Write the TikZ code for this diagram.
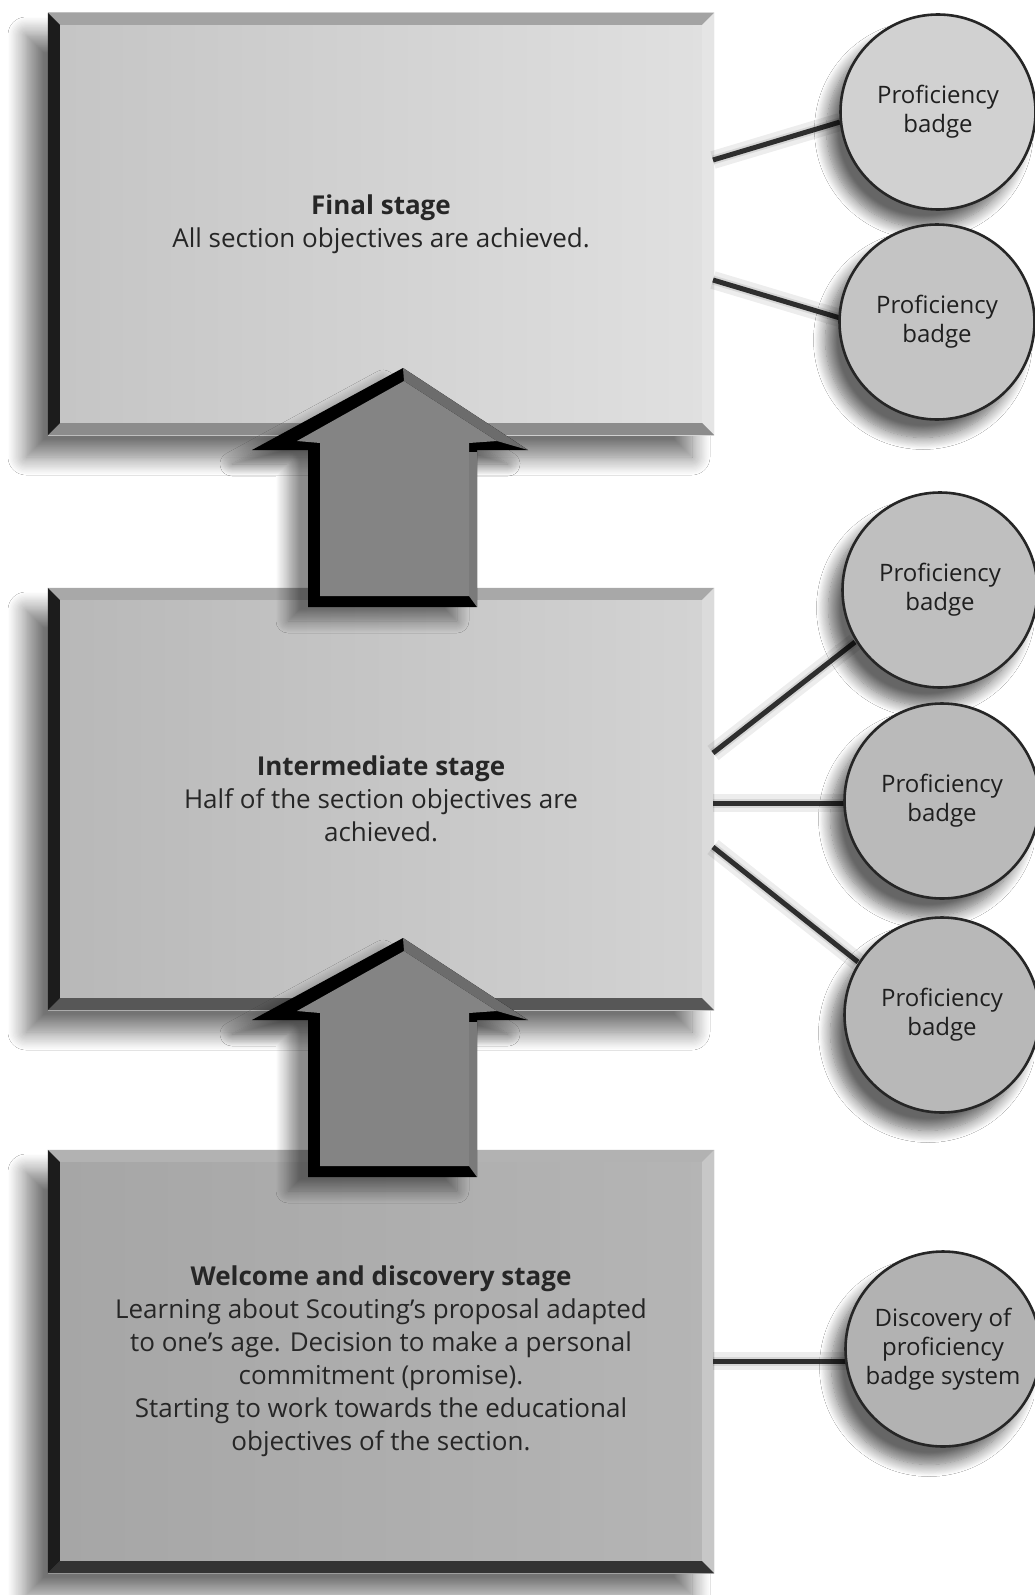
\documentclass[tikz,border=0pt]{standalone}
\usepackage{fontspec}
\setmainfont{Open Sans}
\usetikzlibrary{shadows.blur,calc}

\tikzset{
  stagebox/.style={rectangle, minimum width=666pt, minimum height=422pt, inner sep=0pt,
    align=center, text=black!85, font=\fontsize{26}{33}\selectfont,
    blur shadow={shadow xshift=-22pt, shadow yshift=-22pt, shadow blur radius=18pt, shadow blur steps=16, shadow opacity=55}},
  badge/.style={circle, minimum size=195pt, inner sep=0pt, draw=black!85, line width=2.6pt,
    align=center, text=black!88, font=\fontsize{24}{29}\selectfont,
    blur shadow={shadow xshift=-14pt, shadow yshift=-18pt, shadow blur radius=12pt, shadow blur steps=14, shadow opacity=60}},
  link/.style={line width=5pt, draw=black!82},
  linkshadowwide/.style={line width=18pt, draw=black, opacity=0.07},
  linkshadow/.style={line width=9pt, draw=black, opacity=0.09},
  arrowshadow/.style={blur shadow={shadow xshift=-20pt, shadow yshift=-14pt, shadow blur radius=12pt, shadow blur steps=12, shadow opacity=45}},
}

% bevelled edges of a stage panel: #1 name, #2 top, #3 left, #4 bottom, #5 right
\newcommand\bevelpanel[5]{%
  \fill[#2] (#1.north west) -- (#1.north east) -- ($(#1.north east)+(-12,12)$) -- ($(#1.north west)+(12,12)$) -- cycle;
  \fill[#5] (#1.north east) -- (#1.south east) -- ($(#1.south east)+(-12,-12)$) -- ($(#1.north east)+(-12,12)$) -- cycle;
  \fill[#4] (#1.south west) -- (#1.south east) -- ($(#1.south east)+(-12,-12)$) -- ($(#1.south west)+(12,-12)$) -- cycle;
  \fill[#3] (#1.north west) -- ($(#1.north west)+(12,12)$) -- ($(#1.south west)+(12,-12)$) -- (#1.south west) -- cycle;
}

% bevelled block arrow pointing up, shifted down by #1
\newcommand\stagearrow[1]{%
  \begin{scope}[shift={(0,#1)}]
    \fill[black, arrowshadow] (403,368) -- (528,450) -- (477,450) -- (477,607) -- (308,607) -- (308,450) -- (252,450) -- cycle;
    \fill[arrowface] (404,381) -- (497,441) -- (469,443) -- (469,596) -- (320,596) -- (320,443) -- (297,441) -- cycle;
    \fill[arrowslope] (403,368) -- (528,450) -- (497,441) -- (404,381) -- cycle;
    \fill[arrowside] (469,452) -- (477,452) -- (477,607) -- (469,596) -- cycle;
  \end{scope}
}

% soft shadow and line of a connector
\newcommand\badgelink[2]{%
  \begin{scope}[shift={(-7,14)}]
    \draw[linkshadowwide] (#1) -- (#2);
    \draw[linkshadow] (#1) -- (#2);
  \end{scope}
  \draw[link] (#1) -- (#2);
}

\definecolor{arrowface}{HTML}{848484}
\definecolor{arrowslope}{HTML}{6C6C6C}
\definecolor{arrowside}{HTML}{7A7A7A}

\begin{document}
\begin{tikzpicture}[x=1pt,y=-1pt]
  \useasboundingbox (0,0) rectangle (1034,1595);
  \fill[white] (0,0) rectangle (1034,1595);

  % stage panels
  \node[stagebox, left color=black!23, right color=black!12] (final) at (381,224)
    {\textbf{Final stage}\\All section objectives are achieved.};
  \bevelpanel{final}{black!36}{black!89}{black!45}{black!10}

  \node[stagebox, left color=black!28, right color=black!17] (inter) at (381,799)
    {\textbf{Intermediate stage}\\Half of the section objectives are\\achieved.};
  \bevelpanel{inter}{black!34}{black!89}{black!66}{black!14}

  \node[stagebox, minimum height=423pt, left color=black!35, right color=black!29] (welcome) at (381,1361.5)
    {\textbf{Welcome and discovery stage}\\Learning about Scouting’s proposal adapted\\to one’s age. Decision to make a personal\\commitment (promise).\\Starting to work towards the educational\\objectives of the section.};
  \bevelpanel{welcome}{black!30}{black!89}{black!80}{black!22}

  % arrows between stages
  \stagearrow{0}
  \stagearrow{570}

  % start points of connectors on the panels, and badge centres
  \coordinate (s1) at (713,160);
  \coordinate (s2) at (713,280);
  \coordinate (s3) at (713,753);
  \coordinate (s4) at (713,803);
  \coordinate (s5) at (713,847);
  \coordinate (s6) at (713,1361);
  \coordinate (c1) at (938,112);
  \coordinate (c2) at (937,322);
  \coordinate (c3) at (940,590);
  \coordinate (c4) at (942,801);
  \coordinate (c5) at (942,1015);
  \coordinate (c6) at (943,1349);

  % connectors, ending beneath the badges
  \badgelink{s1}{$(c1)+(-98,10)$}
  \badgelink{s2}{$(c2)+(-97,-4)$}
  \badgelink{s3}{$(c3)+(-85,52)$}
  \badgelink{s4}{$(c4)+(-97,2)$}
  \badgelink{s5}{$(c5)+(-84,-53)$}
  \badgelink{s6}{$(c6)+(-97,12)$}

  % badges
  \node[badge, fill=black!18] (b1) at (c1) {Proficiency\\badge};
  \node[badge, fill=black!23] (b2) at (c2) {Proficiency\\badge};
  \node[badge, fill=black!25] (b3) at (c3) {Proficiency\\badge};
  \node[badge, fill=black!27] (b4) at (c4) {Proficiency\\badge};
  \node[badge, fill=black!28] (b5) at (c5) {Proficiency\\badge};
  \node[badge, fill=black!30] (b6) at (c6) {Discovery of\\proficiency\\badge system};
\end{tikzpicture}
\end{document}
